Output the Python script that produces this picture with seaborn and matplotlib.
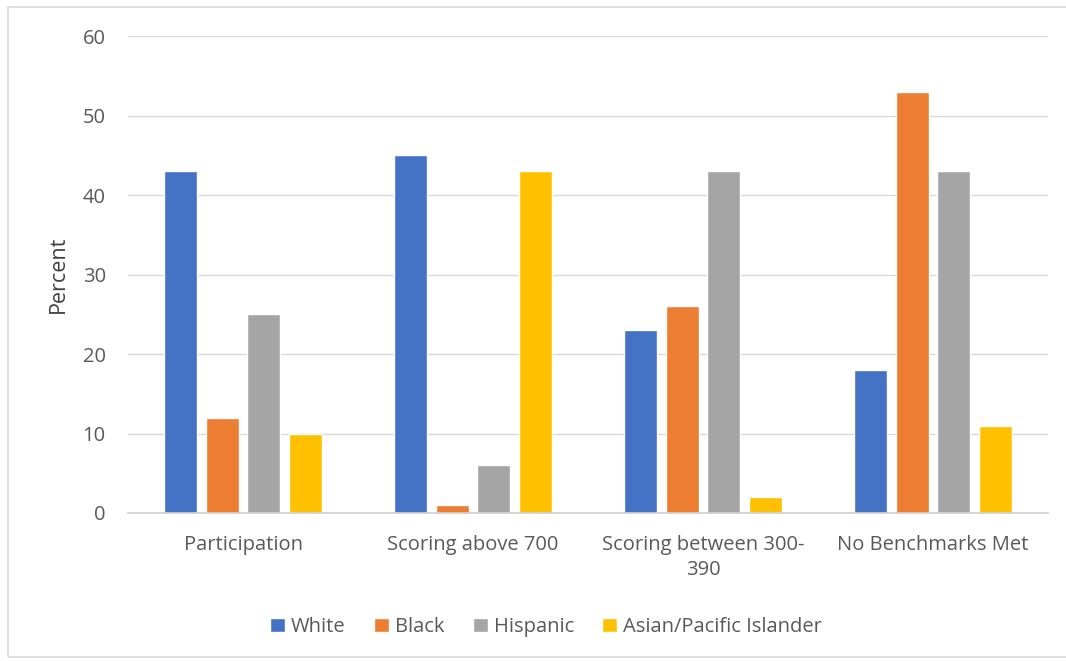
import matplotlib
matplotlib.use("Agg")
import matplotlib.pyplot as plt
from matplotlib.patches import Rectangle
import seaborn as sns
import pandas as pd

categories = ["Participation", "Scoring above 700", "Scoring between 300-\n390", "No Benchmarks Met"]
groups = ["White", "Black", "Hispanic", "Asian/Pacific Islander"]
white = [43, 45, 23, 18]
black = [12, 1, 26, 53]
hispanic = [25, 6, 43, 43]
asian = [10, 43, 2, 11]
colors = ["#4472C4", "#ED7D31", "#A5A5A5", "#FFC000"]

rows = []
for g, vals in zip(groups, [white, black, hispanic, asian]):
    for c, v in zip(categories, vals):
        rows.append({"Category": c, "Group": g, "Percent": v})
df = pd.DataFrame(rows)

sns.set_theme(style="white")
plt.rcParams["font.family"] = ["Open Sans", "DejaVu Sans"]

fig = plt.figure(figsize=(10.66, 6.61), dpi=100)
ax = fig.add_axes([128 / 1066, 1 - 513 / 661, 920 / 1066, 477 / 661])

sns.barplot(data=df, x="Category", y="Percent", hue="Group", order=categories,
            hue_order=groups, palette=colors, width=0.72, gap=0.2,
            saturation=1, ax=ax, errorbar=None, legend=True)

ax.set_ylim(0, 60)
ax.set_yticks(range(0, 61, 10))
ax.set_xlim(-0.5, 3.5)
ax.yaxis.grid(True, color="#D9D9D9", linewidth=1)
ax.set_axisbelow(True)
for s in ["top", "right", "left"]:
    ax.spines[s].set_visible(False)
ax.spines["bottom"].set_color("#D0D0D0")
ax.spines["bottom"].set_linewidth(1.2)
ax.tick_params(axis="both", length=0, labelsize=14.5, colors="#595959")
ax.tick_params(axis="x", pad=16)
ax.tick_params(axis="y", pad=16)
for lbl in ax.get_xticklabels():
    lbl.set_multialignment("center")
    lbl.set_linespacing(1.35)
ax.set_xlabel("")
ax.set_ylabel("Percent", fontsize=15.5, color="#404040", labelpad=10)

handles, labels = ax.get_legend_handles_labels()
ax.legend_.remove()
fig.legend(handles, labels, loc="center", bbox_to_anchor=(546 / 1066, 1 - 627 / 661),
           ncol=4, frameon=False, fontsize=14.5, handlelength=0.75, handleheight=0.75,
           handletextpad=0.3, columnspacing=1.4, labelcolor="#595959")

fig.patches.append(Rectangle((8 / 1066, 4 / 661), 1060 / 1066, 650 / 661,
                             transform=fig.transFigure, fill=False,
                             edgecolor="#D9D9D9", linewidth=1.2))

fig.savefig("out.png", dpi=100, facecolor="white")
